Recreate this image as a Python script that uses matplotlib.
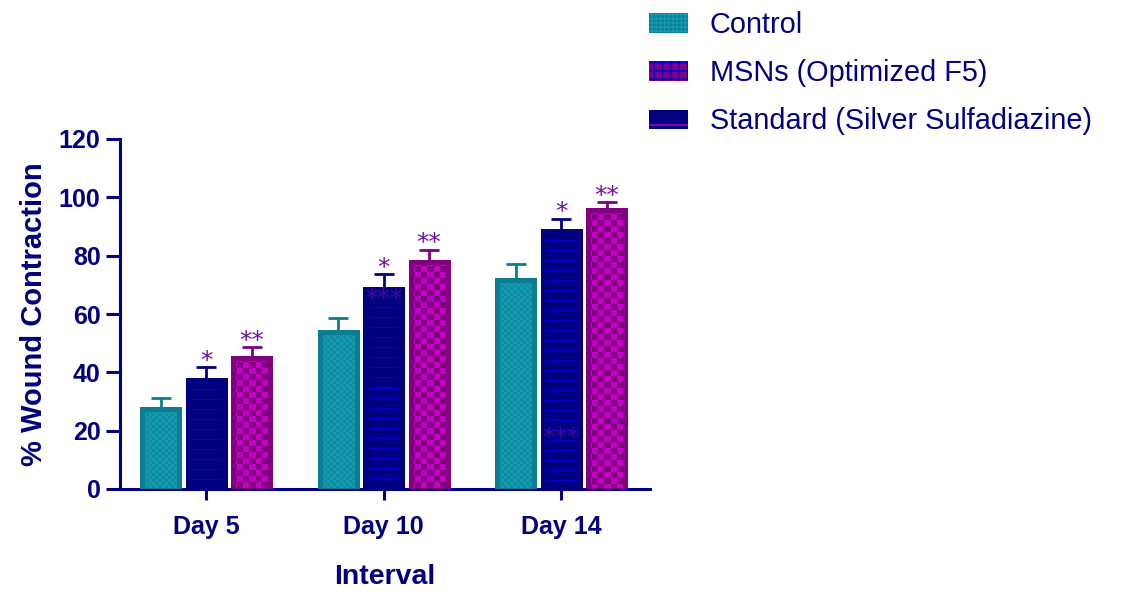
import numpy as np
import matplotlib.pyplot as plt
from matplotlib.patches import Patch

plt.rcParams['font.family'] = ['Liberation Sans', 'DejaVu Sans']

days = ['Day 5', 'Day 10', 'Day 14']
series = ['Control', 'Standard (Silver Sulfadiazine)', 'MSNs (Optimized F5)']
control = [28.1, 54.5, 72.3]
control_err = [3.2, 4.2, 4.8]
standard = [38.0, 69.3, 89.1]
standard_err = [3.7, 4.4, 3.6]
msn = [45.6, 78.5, 96.3]
msn_err = [3.0, 3.5, 2.1]
stars = ['', '*', '**']

# faint leftover significance marks inside some bars
stray_text = ['***', '***', '***', '**']
stray_day = [1, 1, 2, 2]
stray_series = [1, 2, 1, 2]
stray_y = [66.5, 64.0, 19.0, 22.5]
stray_alpha = [0.65, 0.5, 0.6, 0.5]

navy = '#000080'
star_col = '#7010A0'
base_cols = ['#0A7D92', '#000080', '#800080']
legend_order = [0, 2, 1]

fig = plt.figure(figsize=(11.22, 5.99), dpi=100)
ax = fig.add_axes([120 / 1122, 1 - 489 / 599, 530 / 1122, 350 / 599])
ax.set_xlim(-0.485, 2.5)
ax.set_ylim(0, 120)

x = np.arange(len(days))
pitch = 0.256
width = 0.231
values = [control, standard, msn]
errors = [control_err, standard_err, msn_err]


def rgb(c):
    c = c.lstrip('#')
    return np.array([int(c[i:i + 2], 16) / 255 for i in (0, 2, 4)])


def texture(kind, w, h):
    img = np.zeros((h, w, 3))
    yy, xx = np.mgrid[0:h, 0:w]
    if kind == 0:
        img[:] = rgb('#0A7D92')
        cell = 3
        chk = ((yy // cell + xx // cell) % 2 == 0)
        inner = rgb('#0C8CA2') * chk[..., None] + rgb('#1698AE') * (~chk)[..., None]
    elif kind == 2:
        img[:] = rgb('#800080')
        cell = 6
        chk = ((yy // cell + xx // cell) % 2 == 0)
        inner = rgb('#800080') * chk[..., None] + rgb('#C300C3') * (~chk)[..., None]
    else:
        img[:] = rgb('#000080')
        ln = ((yy % 10) == 1)
        inner = rgb('#0000D0') * ln[..., None] + rgb('#000080') * (~ln)[..., None]
    m = 5 if kind != 1 else 6
    mask = (xx >= m) & (xx < w - m) & (yy >= m) & (yy < h - 1)
    img[mask] = inner[mask]
    return img


for i in range(3):
    pos = x + (i - 1) * pitch
    bars = ax.bar(pos, values[i], width, color=base_cols[i], linewidth=0, zorder=2)
    eb = ax.errorbar(pos, values[i], yerr=[np.zeros(3), errors[i]], fmt='none',
                     ecolor=base_cols[i], elinewidth=2, capsize=7.5, capthick=2, zorder=1)
    eb[1][0].set_visible(False)
    for b in bars:
        x0, y0 = b.get_x(), 0
        x1, y1 = b.get_x() + b.get_width(), b.get_height()
        p0 = ax.transData.transform((x0, y0))
        p1 = ax.transData.transform((x1, y1))
        w = int(round(p1[0] - p0[0]))
        h = int(round(p1[1] - p0[1]))
        im = ax.imshow(texture(i, w, h), extent=(x0, x1, y0, y1), origin='upper',
                       aspect='auto', interpolation='nearest', zorder=3)
        im.set_clip_path(b)
    if stars[i]:
        for j in range(3):
            ax.text(pos[j], values[i][j] + errors[i][j] - 0.2, stars[i], ha='center',
                    va='baseline', fontsize=18, color=star_col, zorder=5,
                    family='DejaVu Sans')

ax.set_xlim(-0.485, 2.5)
ax.set_ylim(0, 120)

for t, d, s, yv, a in zip(stray_text, stray_day, stray_series, stray_y, stray_alpha):
    xs = x[d] + (s - 1) * pitch + (0.06 if t == '**' else 0)
    ax.text(xs, yv - 3.8, t, ha='center', va='baseline', fontsize=18,
            color=star_col, alpha=a, zorder=5, family='DejaVu Sans')

for sp in ['top', 'right']:
    ax.spines[sp].set_visible(False)
for sp in ['left', 'bottom']:
    ax.spines[sp].set_color(navy)
    ax.spines[sp].set_linewidth(2.2)

ax.set_yticks(np.arange(0, 121, 20))
ax.set_xticks(x)
ax.set_xticklabels(days)
ax.tick_params(axis='y', colors=navy, length=10, width=2.2, labelsize=18, pad=4)
ax.tick_params(axis='x', colors=navy, length=8, width=2.2, labelsize=18, pad=11)
for lab in ax.get_xticklabels() + ax.get_yticklabels():
    lab.set_fontweight('bold')

ax.set_ylabel('% Wound Contraction', fontsize=21, fontweight='bold', color=navy, labelpad=8)
ax.set_xlabel('Interval', fontsize=20.5, fontweight='bold', color=navy, labelpad=18)

hatches = ['++++', '++', '-']
edge_cols = ['#1698AE', '#C300C3', '#0000CC']
handles = [Patch(facecolor=base_cols[k], edgecolor=edge_cols[k], hatch=hatches[n], linewidth=0)
           for n, k in enumerate(legend_order)]
labels = [series[k] for k in legend_order]
leg = fig.legend(handles, labels, loc='upper left', bbox_to_anchor=(649 / 1122, 1 - 11 / 599),
                 frameon=False, fontsize=20.8, handlelength=1.35, handleheight=0.66,
                 handletextpad=0.75, labelspacing=0.7, borderpad=0, borderaxespad=0)
for t in leg.get_texts():
    t.set_color(navy)

fig.savefig('out.png', dpi=100)
